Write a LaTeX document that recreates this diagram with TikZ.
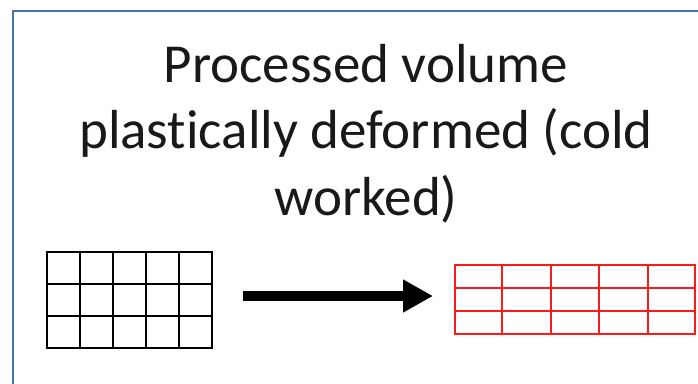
\documentclass[tikz,border=0pt]{standalone}
\usepackage{fontspec}
\setmainfont[Ligatures={NoCommon}]{Carlito}
\usetikzlibrary{arrows.meta}
\definecolor{framec}{HTML}{4A6FB5}
\definecolor{gridred}{HTML}{FF1A1A}
\tikzset{
  framestyle/.style={draw=framec, line width=1.6pt},
  titlestyle/.style={font=\fontsize{55}{66.5}\selectfont, align=center, inner sep=0pt, text=black!90},
  blackgrid/.style={draw=black, line width=1.5pt},
  redgrid/.style={draw=gridred, line width=1.5pt},
  bigarrow/.style={draw=black, line width=10pt, -{Triangle[length=30pt,width=31pt]}},
}
\begin{document}
\begin{tikzpicture}[x=1pt,y=-1pt]
\useasboundingbox (0,0) rectangle (698,383);
\clip (0,0) rectangle (698,383);
\fill[white] (0,0) rectangle (698,383);
\draw[framestyle] (13,400) -- (13,11) -- (720,11);
\node[titlestyle, anchor=north] (title) at (366,44) {Processed volume\\plastically deformed (cold\\worked)};
% left grid
\coordinate (g1a) at (47,252);
\coordinate (g1b) at (212,348);
\draw[blackgrid] (g1a) rectangle (g1b);
\foreach \x in {80,113,146,179} \draw[blackgrid] (\x,252) -- (\x,348);
\foreach \y in {284,316} \draw[blackgrid] (47,\y) -- (212,\y);
% right grid
\coordinate (g2a) at (455,265);
\coordinate (g2b) at (695,334);
\draw[redgrid] (g2a) rectangle (g2b);
\foreach \x in {502,551,599,648} \draw[redgrid] (\x,265) -- (\x,334);
\foreach \y in {288,311} \draw[redgrid] (455,\y) -- (695,\y);
% arrow
\coordinate (a1) at (243,296);
\coordinate (a2) at (433,296);
\draw[bigarrow] (a1) -- (a2);
\end{tikzpicture}
\end{document}
